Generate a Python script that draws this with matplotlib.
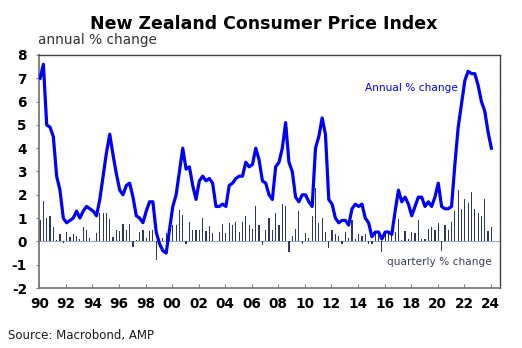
import numpy as np
import matplotlib
matplotlib.use("Agg")
from matplotlib import pyplot as plt

# NZ CPI, quarterly, 1990 Q1 to 2024 Q1
annual = [
    7.0, 7.6, 5.0, 4.9,   # 1990
    4.5, 2.8, 2.2, 1.0,   # 1991
    0.8, 0.9, 1.0, 1.3,   # 1992
    1.0, 1.3, 1.5, 1.4,   # 1993
    1.3, 1.1, 1.8, 2.8,   # 1994
    3.8, 4.6, 3.7, 2.9,   # 1995
    2.2, 2.0, 2.4, 2.5,   # 1996
    1.9, 1.1, 1.0, 0.8,   # 1997
    1.3, 1.7, 1.7, 0.4,   # 1998
    -0.1, -0.4, -0.5, 0.5,  # 1999
    1.5, 2.0, 3.0, 4.0,   # 2000
    3.1, 3.2, 2.4, 1.8,   # 2001
    2.6, 2.8, 2.6, 2.7,   # 2002
    2.5, 1.5, 1.5, 1.6,   # 2003
    1.5, 2.4, 2.5, 2.7,   # 2004
    2.8, 2.8, 3.4, 3.2,   # 2005
    3.3, 4.0, 3.5, 2.6,   # 2006
    2.5, 2.0, 1.8, 3.2,   # 2007
    3.4, 4.0, 5.1, 3.4,   # 2008
    3.0, 1.9, 1.7, 2.0,   # 2009
    2.0, 1.7, 1.5, 4.0,   # 2010
    4.5, 5.3, 4.6, 1.8,   # 2011
    1.6, 1.0, 0.8, 0.9,   # 2012
    0.9, 0.7, 1.4, 1.6,   # 2013
    1.5, 1.6, 1.0, 0.8,   # 2014
    0.2, 0.4, 0.4, 0.1,   # 2015
    0.4, 0.4, 0.3, 1.3,   # 2016
    2.2, 1.7, 1.9, 1.6,   # 2017
    1.1, 1.5, 1.9, 1.9,   # 2018
    1.5, 1.7, 1.5, 1.9,   # 2019
    2.5, 1.5, 1.4, 1.4,   # 2020
    1.5, 3.3, 4.9, 5.9,   # 2021
    6.9, 7.3, 7.2, 7.2,   # 2022
    6.7, 6.0, 5.6, 4.7,   # 2023
    4.0,                  # 2024
]

quarterly = [
    0.9, 1.75, 1.0, 1.1,
    0.6, 0.05, 0.3, -0.05,
    0.4, 0.2, 0.3, 0.25,
    0.1, 0.6, 0.5, 0.15,
    0.03, 0.35, 1.2, 1.2,
    1.2, 0.95, 0.2, 0.5,
    0.45, 0.75, 0.5, 0.75,
    -0.25, 0.05, 0.4, 0.5,
    0.15, 0.45, 0.5, -0.8,
    0.02, 0.15, 0.35, 0.6,
    0.7, 0.7, 1.35, 1.15,
    -0.1, 0.85, 0.5, 0.5,
    0.5, 1.0, 0.45, 0.65,
    0.35, 0.02, 0.4, 0.75,
    0.35, 0.8, 0.7, 0.85,
    0.4, 0.85, 1.1, 0.7,
    0.55, 1.5, 0.7, -0.15,
    0.5, 1.0, 0.5, 1.2,
    0.7, 1.6, 1.5, -0.45,
    0.25, 0.55, 1.3, -0.1,
    0.35, 0.15, 1.1, 2.3,
    0.8, 1.0, 0.4, -0.3,
    0.5, 0.3, 0.25, -0.1,
    0.4, 0.15, 0.9, 0.1,
    0.3, 0.25, 0.3, -0.1,
    -0.1, 0.35, 0.3, -0.45,
    0.35, 0.35, 0.4, 0.4,
    0.95, 0.05, 0.45, 0.1,
    0.4, 0.35, 0.9, 0.1,
    0.1, 0.55, 0.6, 0.5,
    0.8, -0.4, 0.7, 0.5,
    0.85, 1.3, 2.2, 1.4,
    1.8, 1.65, 2.1, 1.4,
    1.2, 1.1, 1.8, 0.45,
    0.6,
]

year_ticks = list(range(1990, 2025, 2))
year_labels = [f"{y % 100:02d}" for y in year_ticks]

dates = 1990 + 0.05 + 0.25 * np.arange(len(annual))

plt.rcParams["font.family"] = ["DejaVu Sans"]
plt.rcParams["axes.unicode_minus"] = False

fig = plt.figure(figsize=(5.22, 3.48), dpi=100)
ax = fig.add_axes([39 / 522, 1 - 288 / 348, 461 / 522, 233 / 348])

ax.axhline(0, color="#a0a6bc", lw=0.8, zorder=1)
ax.bar(dates, quarterly, width=0.09, color="#2c3766", zorder=2)
ax.plot(dates, annual, color="#0000ff", lw=2.3, zorder=3, solid_joinstyle="round")

ax.set_xlim(1989.97, 2024.7)
ax.set_ylim(-2, 8)
ax.set_xticks(year_ticks)
ax.set_xticklabels(year_labels)
ax.set_yticks(range(-2, 9))

ax.tick_params(axis="x", direction="in", length=3, width=0.8, color="#808080",
               pad=6.5, labelsize=9.8)
ax.tick_params(axis="y", direction="out", length=2.2, width=0.8, color="#808080",
               pad=6.5, labelsize=9.8)
for lab in ax.get_xticklabels() + ax.get_yticklabels():
    lab.set_fontweight("bold")

for side in ["left", "bottom"]:
    ax.spines[side].set_color("#7a7a7a")
    ax.spines[side].set_linewidth(1.3)
for side in ["top", "right"]:
    ax.spines[side].set_color("#404040")
    ax.spines[side].set_linewidth(1.0)

ax.text(0.909, 0.858, "Annual % change", transform=ax.transAxes, ha="right",
        va="center", fontsize=7.6, color="#0000ff")
ax.text(0.983, 0.113, "quarterly % change", transform=ax.transAxes, ha="right",
        va="center", fontsize=7.6, color="#3a3f5c")

fig.text(264 / 522, 1 - 24 / 348, "New Zealand Consumer Price Index", ha="center",
         va="center", fontsize=12.5, fontweight="bold", color="black")
fig.text(38 / 522, 1 - 40 / 348, "annual % change", ha="left", va="center",
         fontsize=9.8, color="#333333")
fig.text(8 / 522, 1 - 336 / 348, "Source: Macrobond, AMP", ha="left", va="center",
         fontsize=8.5, color="#1a1a1a")

fig.savefig("out.png", dpi=100)
